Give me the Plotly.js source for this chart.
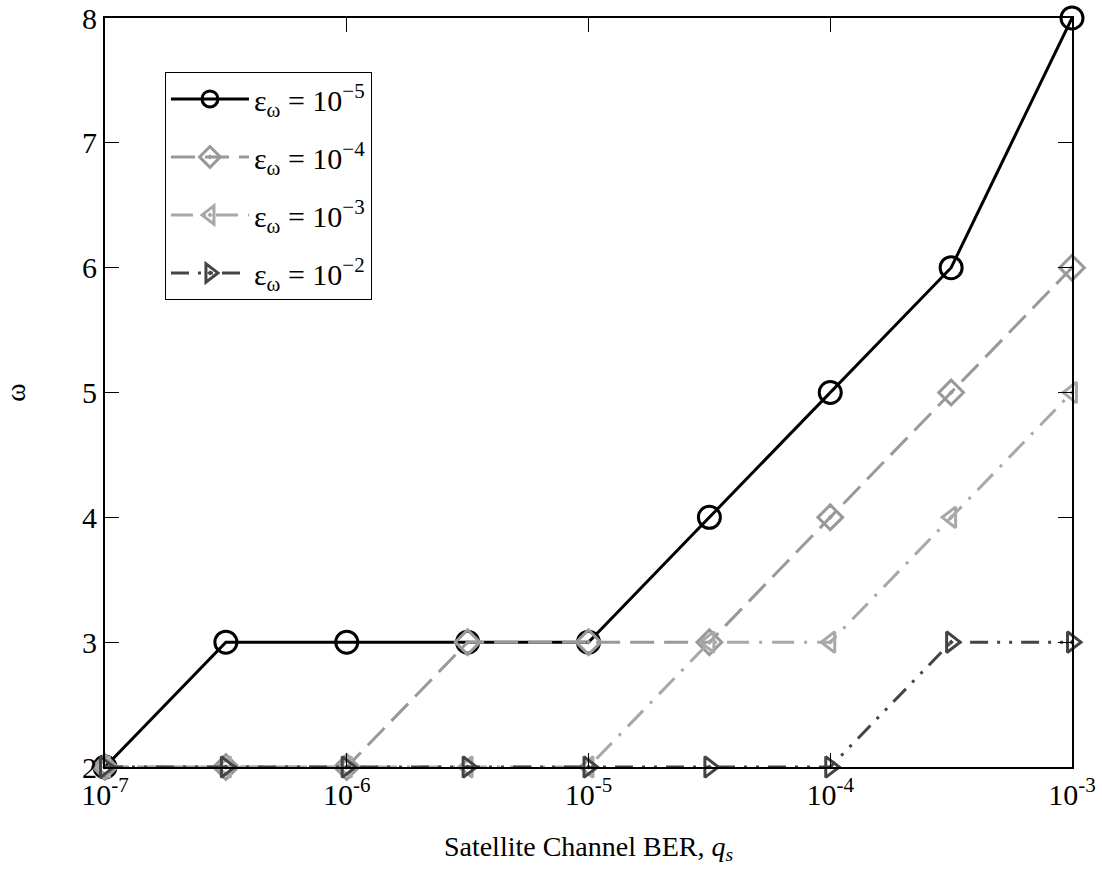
<!DOCTYPE html>
<html><head><meta charset="utf-8">
<script src="https://cdn.plot.ly/plotly-3.0.1.min.js"></script>
<style>body{margin:0;background:#fff}#chart{width:1102px;height:871px}</style>
</head><body><div id="chart"></div>
<script>
const qs = [1e-7, 3.1623e-7, 1e-6, 3.1623e-6, 1e-5, 3.1623e-5, 1e-4, 3.1623e-4, 1e-3];
const w_eps1e5 = [2, 3, 3, 3, 3, 4, 5, 6, 8];
const w_eps1e4 = [2, 2, 2, 3, 3, 3, 4, 5, 6];
const w_eps1e3 = [2, 2, 2, 2, 2, 3, 3, 4, 5];
const w_eps1e2 = [2, 2, 2, 2, 2, 2, 2, 3, 3];
const seriesNames = ['ε<sub>ω</sub> = 10<sup>−5</sup>', 'ε<sub>ω</sub> = 10<sup>−4</sup>', 'ε<sub>ω</sub> = 10<sup>−3</sup>', 'ε<sub>ω</sub> = 10<sup>−2</sup>'];
const xTickVals = [1e-7, 1e-6, 1e-5, 1e-4, 1e-3];
const xTickText = ['10<sup>-7</sup>', '10<sup>-6</sup>', '10<sup>-5</sup>', '10<sup>-4</sup>', '10<sup>-3</sup>'];
const yTickVals = [2, 3, 4, 5, 6, 7, 8];
const yTickText = ['2', '3', '4', '5', '6', '7', '8'];

const font = "Times New Roman, Liberation Serif, serif";
function tr(y, name, color, dash, sym, size, g) {
  return {x: qs, y: y, name: name, legendgroup: g, type: 'scatter', mode: 'lines+markers', cliponaxis: false,
    line: {color: color, width: 3, dash: dash},
    marker: {symbol: sym, size: size, color: color, line: {color: color, width: 3}}};
}
const data = [
  tr(w_eps1e5, seriesNames[0], '#000000', 'solid', 'circle-open', 22, 'a'),
  tr(w_eps1e4, seriesNames[1], '#999999', '24px,10px', 'diamond-open-dot', 19, 'b'),
  tr(w_eps1e3, seriesNames[2], '#a8a8a8', '22px,10px,3px,10px', 'triangle-left-open-dot', 18, 'c'),
  tr(w_eps1e2, seriesNames[3], '#444444', '18px,9px,3px,9px,3px,9px', 'triangle-right-open-dot', 18, 'd')
];
const layout = {
  width: 1102, height: 871,
  margin: {l: 105, r: 30, t: 18, b: 104},
  paper_bgcolor: '#fff', plot_bgcolor: '#fff',
  font: {family: font, size: 30, color: '#000'},
  showlegend: true,
  legend: {x: 0.062, y: 0.928, xanchor: 'left', yanchor: 'top', bgcolor: '#fff',
    bordercolor: '#000', borderwidth: 1, traceorder: 'grouped', tracegroupgap: 16,
    font: {size: 30, family: font}, itemwidth: 78},
  xaxis: {type: 'log', range: [-7.0000001, -2.9999999], tickvals: xTickVals, ticktext: xTickText,
    ticks: 'inside', ticklen: 14, tickwidth: 1, tickcolor: '#000', mirror: 'ticks',
    showline: true, linecolor: '#000', linewidth: 2, showgrid: false, zeroline: false,
    tickfont: {size: 30, family: font, color: '#000'},
    title: {text: 'Satellite Channel BER, <i>q<sub>s</sub></i>', font: {size: 28, family: font}, standoff: 26}},
  yaxis: {range: [2, 8], tickvals: yTickVals, ticktext: yTickText,
    ticks: 'inside', ticklen: 14, tickwidth: 1, tickcolor: '#000', mirror: 'ticks',
    showline: true, linecolor: '#000', linewidth: 2, showgrid: false, zeroline: false,
    tickfont: {size: 30, family: font, color: '#000'},
    title: {text: 'ω', font: {size: 28, family: font}, standoff: 50}}
};
Plotly.newPlot('chart', data, layout, {displayModeBar: false});
</script></body></html>
